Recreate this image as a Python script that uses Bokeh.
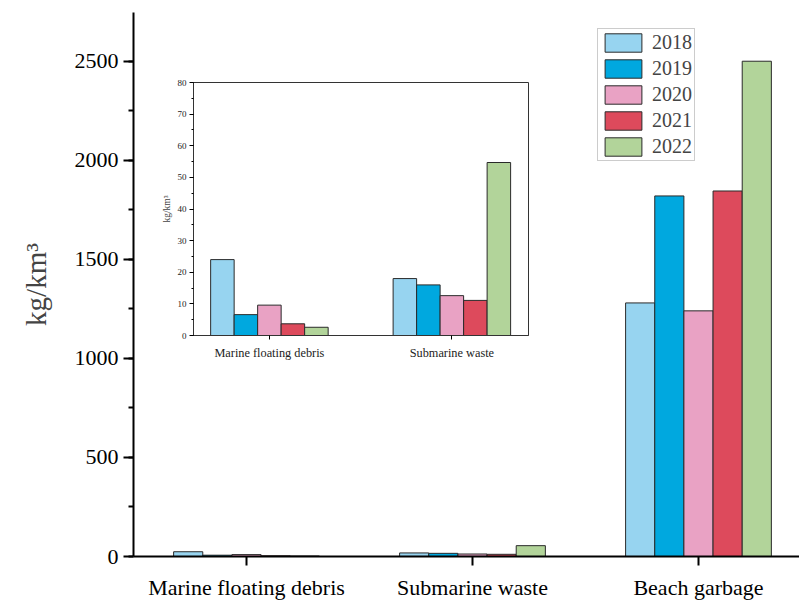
from bokeh.plotting import figure
from bokeh.models import ColumnDataSource, FixedTicker, SingleIntervalTicker, Legend, LegendItem, Range1d
from bokeh.transform import dodge
from bokeh.embed import file_html
from bokeh.resources import INLINE

# ---- data ----
categories = ["Marine floating debris", "Submarine waste", "Beach garbage"]
years = ["2018", "2019", "2020", "2021", "2022"]
v2018 = [24.0, 18.0, 1280.0]
v2019 = [6.6, 16.0, 1820.0]
v2020 = [9.6, 12.6, 1240.0]
v2021 = [3.7, 11.1, 1845.0]
v2022 = [2.6, 54.7, 2500.0]
inset_categories = ["Marine floating debris", "Submarine waste"]

series = [v2018, v2019, v2020, v2021, v2022]
colors = ["#97D4F0", "#00A8DF", "#E9A2C4", "#DD4A5C", "#B2D49A"]
FONT = "Liberation Serif"

positions = list(range(1, len(categories) + 1))
src = ColumnDataSource(dict(pos=positions, **{y: s for y, s in zip(years, series)}))
n_in = len(inset_categories)
src_in = ColumnDataSource(dict(pos=positions[:n_in], **{y: s[:n_in] for y, s in zip(years, series)}))

# ---- main figure ----
p = figure(width=799, height=602, x_range=Range1d(0.5, 3.447), y_range=Range1d(0, 2746),
           output_backend="svg", toolbar_location=None,
           min_border_left=133, min_border_top=12, min_border_right=0, min_border_bottom=44)
p.outline_line_color = None
p.xgrid.visible = False
p.ygrid.visible = False
p.background_fill_color = "white"
p.border_fill_color = "white"

bw = 0.129
renderers = []
for i, y in enumerate(years):
    r = p.vbar(x=dodge("pos", (i - 2) * bw, range=p.x_range), top=y, width=bw, source=src,
               fill_color=colors[i], line_color="#2a2a2a", line_width=1)
    renderers.append(r)

p.yaxis.ticker = SingleIntervalTicker(interval=500, num_minor_ticks=2)
p.xaxis.ticker = FixedTicker(ticks=positions, minor_ticks=[])
p.xaxis.major_label_overrides = {pos: c for pos, c in zip(positions, categories)}
for ax in (p.xaxis, p.yaxis):
    ax.axis_line_width = 2
    ax.axis_line_color = "black"
    ax.major_tick_line_width = 2
    ax.minor_tick_line_width = 2
    ax.major_tick_in = 0
    ax.major_tick_out = 10
    ax.minor_tick_in = 0
    ax.minor_tick_out = 5
    ax.major_label_text_font = FONT
    ax.major_label_text_font_size = "22px"
    ax.major_label_text_color = "black"
p.xaxis.major_tick_out = 9
p.xaxis.major_label_standoff = 9
p.yaxis.major_label_standoff = 5
p.yaxis.axis_label = "kg/km\u00b3"
p.yaxis.axis_label_text_font = FONT
p.yaxis.axis_label_text_font_size = "29px"
p.yaxis.axis_label_text_font_style = "normal"
p.yaxis.axis_label_standoff = 20

legend = Legend(items=[LegendItem(label=y, renderers=[r]) for y, r in zip(years, renderers)],
                location=(464, 395), glyph_width=46, glyph_height=23, spacing=3, padding=2,
                margin=0, label_standoff=6, label_text_font=FONT, label_text_font_size="20px",
                border_line_color="#999999", border_line_width=1, background_fill_alpha=1)
p.add_layout(legend)

# ---- inset figure ----
ins = figure(width=374, height=291, x_range=Range1d(0.584, 2.42), y_range=Range1d(0, 80),
             output_backend="svg", toolbar_location=None,
             min_border_left=35, min_border_top=8, min_border_right=4, min_border_bottom=30,
             styles={"position": "absolute", "left": "158px", "top": "74px", "z-index": "5"})
ins.outline_line_color = "#333333"
ins.outline_line_width = 1
ins.xgrid.visible = False
ins.ygrid.visible = False
ins.border_fill_color = "white"
ibw = 0.1288
for i, y in enumerate(years):
    ins.vbar(x=dodge("pos", (i - 2) * ibw, range=ins.x_range), top=y, width=ibw, source=src_in,
             fill_color=colors[i], line_color="#2a2a2a", line_width=1)
ins.yaxis.ticker = SingleIntervalTicker(interval=10, num_minor_ticks=2)
ins.xaxis.ticker = FixedTicker(ticks=positions[:n_in], minor_ticks=[])
ins.xaxis.major_label_overrides = {pos: c for pos, c in zip(positions, inset_categories)}
for ax in (ins.xaxis, ins.yaxis):
    ax.axis_line_color = "#333333"
    ax.axis_line_width = 1
    ax.major_tick_in = 0
    ax.major_tick_out = 4
    ax.minor_tick_in = 0
    ax.minor_tick_out = 2
    ax.major_label_text_font = FONT
    ax.major_label_text_color = "#222222"
ins.xaxis.major_label_text_font_size = "12.3px"
ins.yaxis.major_label_text_font_size = "9px"
ins.xaxis.major_label_standoff = 6
ins.yaxis.major_label_standoff = 3
ins.yaxis.axis_label = "kg/km\u00b3"
ins.yaxis.axis_label_text_font = FONT
ins.yaxis.axis_label_text_font_size = "9.5px"
ins.yaxis.axis_label_text_font_style = "normal"
ins.yaxis.axis_label_standoff = 3

open("out.html", "w").write(file_html([p, ins], INLINE))
